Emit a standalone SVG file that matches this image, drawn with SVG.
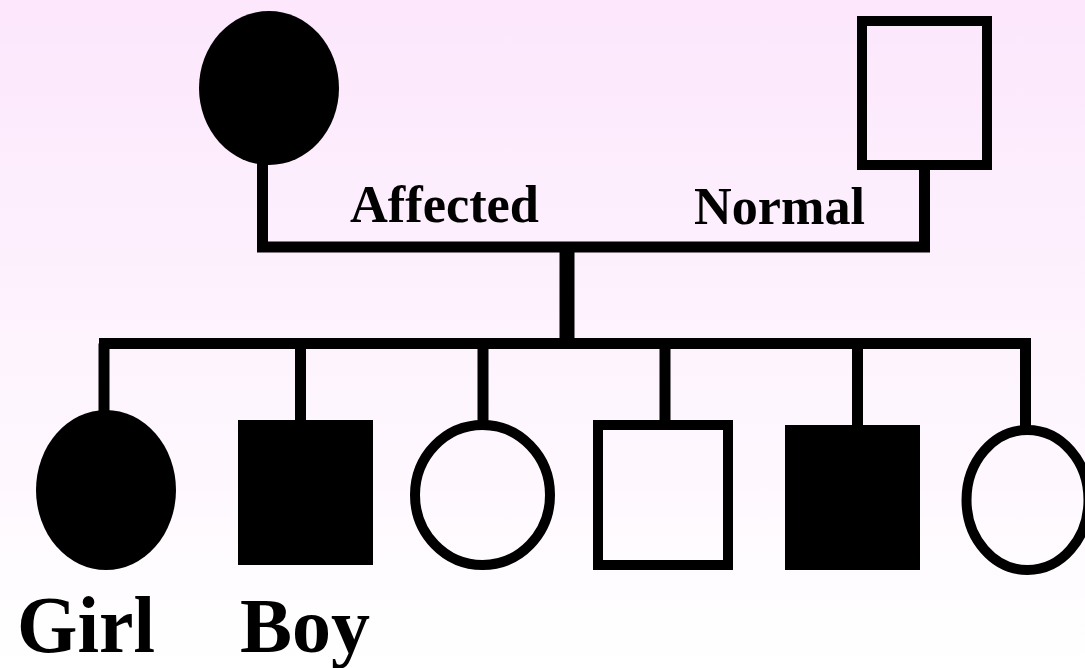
<svg xmlns="http://www.w3.org/2000/svg" width="1085" height="668" viewBox="0 0 1085 668">
<defs>
<linearGradient id="bg" x1="0" y1="0" x2="0" y2="1">
<stop offset="0" stop-color="#FCE7FC"/>
<stop offset="1" stop-color="#FFFFFF"/>
</linearGradient>
<style>
.line{stroke:#000;stroke-width:11;fill:none;stroke-linecap:butt}
.filled{fill:#000;stroke:none}
.open{fill:none;stroke:#000;stroke-width:10}
.lbl{font-family:"Liberation Serif","Times New Roman",serif;font-weight:bold;fill:#000}
</style>
</defs>
<rect width="1085" height="668" fill="url(#bg)"/>
<g id="connectors">
<path class="line" d="M262.5,160 V247 H924.5 V165"/>
<path class="line" style="stroke-width:15" d="M567,247 V343"/>
<path class="line" d="M99,343.5 H1031"/>
<path class="line" d="M104,343.5 V415"/>
<path class="line" d="M300.5,343.5 V422"/>
<path class="line" d="M483,343.5 V422"/>
<path class="line" d="M665,343.5 V427"/>
<path class="line" d="M857.5,343.5 V427"/>
<path class="line" d="M1025.5,343.5 V427"/>
</g>
<g id="mother"><ellipse class="filled" cx="269" cy="88" rx="70" ry="77"/></g>
<g id="father"><rect class="open" x="862" y="21" width="125" height="144"/></g>
<g id="child1"><ellipse class="filled" cx="106" cy="490" rx="70" ry="80"/></g>
<g id="child2"><rect class="filled" x="238" y="420" width="135" height="145"/></g>
<g id="child3"><ellipse class="open" cx="482.5" cy="495" rx="67.5" ry="70"/></g>
<g id="child4"><rect class="open" x="598" y="425" width="130" height="140"/></g>
<g id="child5"><rect class="filled" x="785" y="425" width="135" height="145"/></g>
<g id="child6"><ellipse class="open" cx="1027.5" cy="500" rx="61" ry="70"/></g>
<g id="labels">
<text class="lbl" x="350" y="222" font-size="53" textLength="189" lengthAdjust="spacingAndGlyphs">Affected</text>
<text class="lbl" x="694" y="224" font-size="53" textLength="171" lengthAdjust="spacingAndGlyphs">Normal</text>
<text class="lbl" x="17" y="652" font-size="80" textLength="138" lengthAdjust="spacingAndGlyphs">Girl</text>
<text class="lbl" x="240" y="652" font-size="79" textLength="130" lengthAdjust="spacingAndGlyphs">Boy</text>
</g>
</svg>
